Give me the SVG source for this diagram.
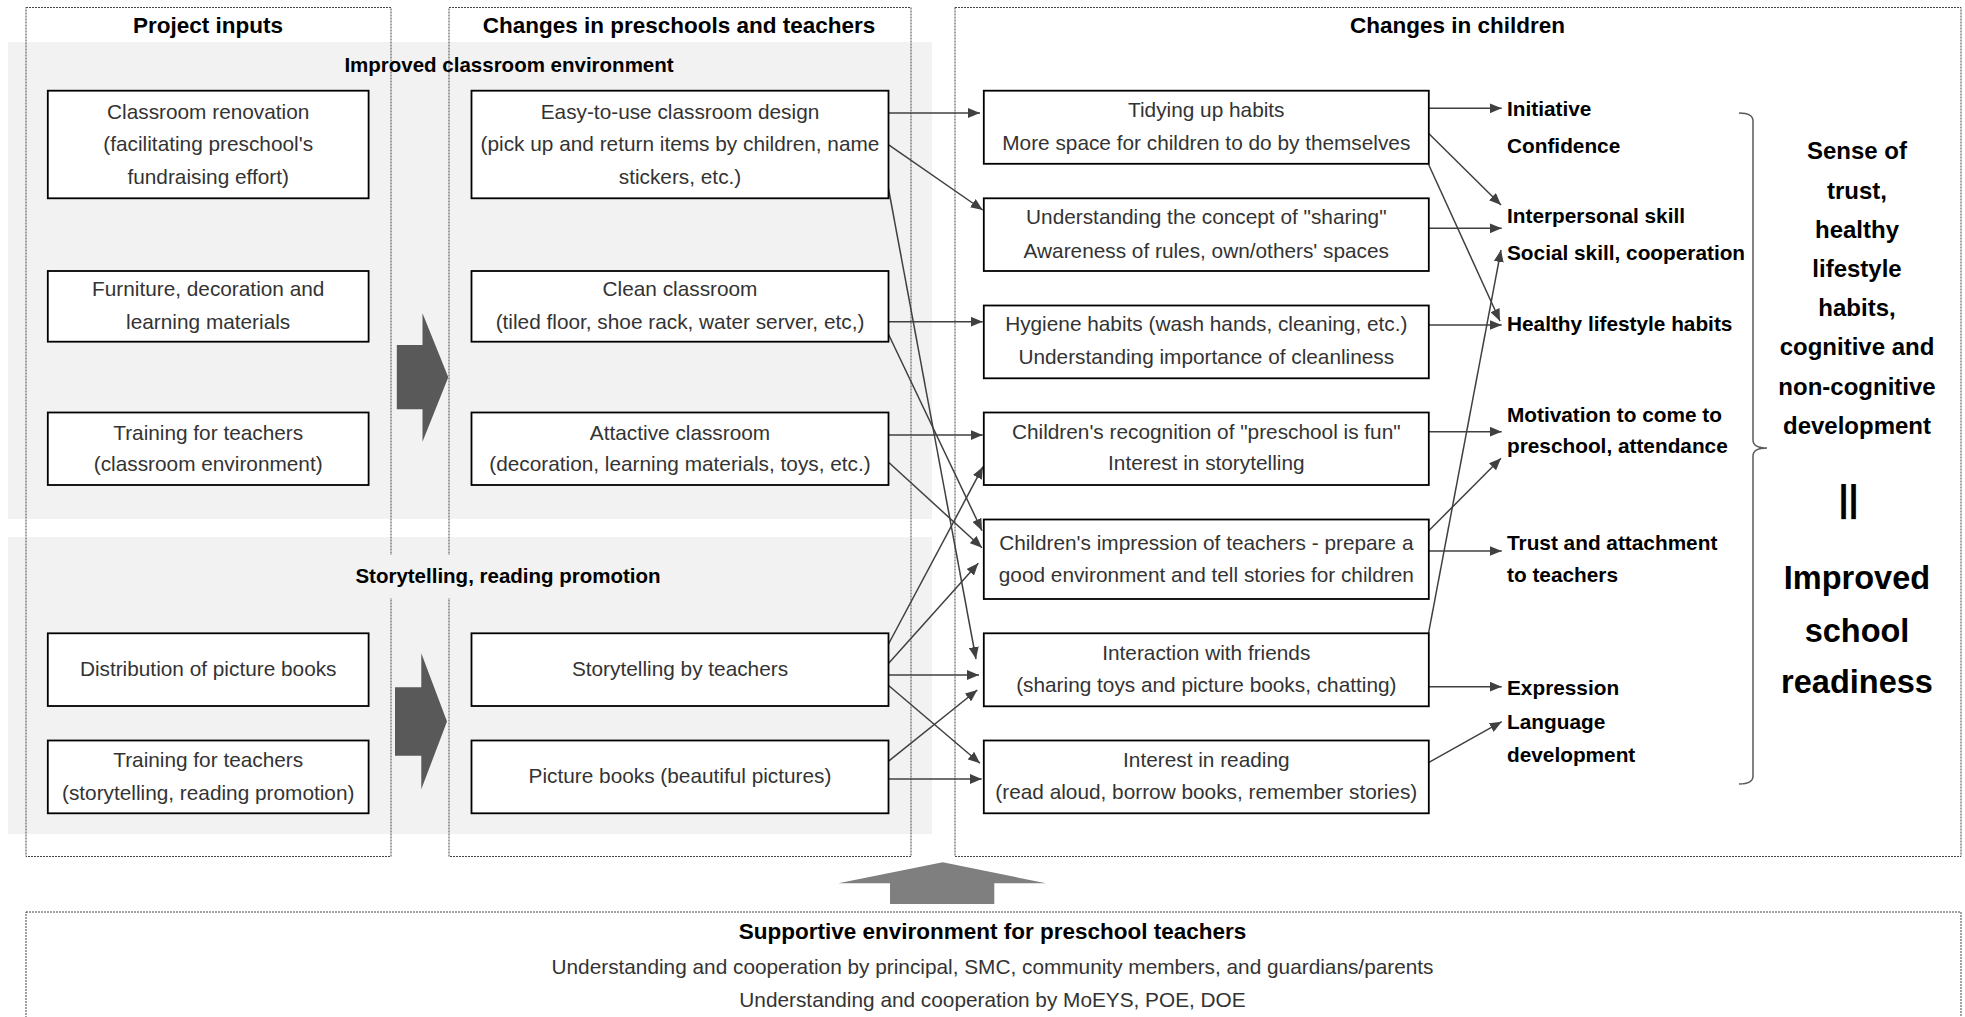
<svg xmlns="http://www.w3.org/2000/svg" width="1965" height="1017" viewBox="0 0 1965 1017">
<defs>
<style>
.band{fill:#f2f2f2}
.col{fill:none;stroke:#444;stroke-width:1;stroke-dasharray:2 1}
.box{fill:#fff;stroke:#000;stroke-width:1.8}
.t{font-family:"Liberation Sans",Arial,sans-serif;font-size:20.8px;fill:#333;text-anchor:middle}
.h{font-family:"Liberation Sans",Arial,sans-serif;font-size:22.5px;font-weight:bold;fill:#000;text-anchor:middle}
.s{font-family:"Liberation Sans",Arial,sans-serif;font-size:20.5px;font-weight:bold;fill:#000;text-anchor:middle}
.l{font-family:"Liberation Sans",Arial,sans-serif;font-size:20.8px;font-weight:bold;fill:#000}
.big{font-family:"Liberation Sans",Arial,sans-serif;font-size:24px;font-weight:bold;fill:#000;text-anchor:middle}
.huge{font-family:"Liberation Sans",Arial,sans-serif;font-size:32.5px;font-weight:bold;fill:#000;text-anchor:middle}
.c{fill:none;stroke:#404040;stroke-width:1.5;marker-end:url(#ah)}
</style>
<marker id="ah" markerWidth="12" markerHeight="10" refX="12" refY="5" orient="auto" markerUnits="userSpaceOnUse">
<path d="M0,0 L12,5 L0,10 z" fill="#404040"/>
</marker>
</defs>
<rect width="1965" height="1017" fill="#fff"/>
<g id="backgrounds">
<rect class="band" x="8" y="42" width="924" height="477"/>
<rect class="band" x="8" y="537" width="924" height="297"/>
</g>
<g id="columns">
<rect class="col" x="26" y="7.5" width="365" height="849"/>
<rect class="col" x="449" y="7.5" width="462" height="849"/>
<rect class="col" x="955" y="7.5" width="1006" height="849"/>
<rect class="col" x="26" y="912" width="1935" height="110"/>
<text class="h" x="208" y="32.5">Project inputs</text>
<text class="h" x="679" y="32.5">Changes in preschools and teachers</text>
<text class="h" x="1457.5" y="32.5">Changes in children</text>
</g>
<g id="section-labels">
<text class="s" x="509" y="71.7">Improved classroom environment</text>
<rect class="band" x="350" y="555" width="317" height="43"/>
<text class="s" x="508" y="583.3">Storytelling, reading promotion</text>
</g>
<g id="block-arrows">
<polygon points="396.8,345 422.5,345 422.5,313.3 448.3,377.3 422.5,441.7 422.5,409.3 396.8,409.3" fill="#595959"/>
<polygon points="395,687.3 421.3,687.3 421.3,653.3 447,721.5 421.3,789.3 421.3,755.7 395,755.7" fill="#595959"/>
<polygon points="838.3,883.3 942.7,862.3 1046,883.3 994.3,883.3 994.3,904 890,904 890,883.3" fill="#7f7f7f"/>
</g>
<g id="connectors">
<line class="c" x1="888" y1="113" x2="980" y2="113"/>
<line class="c" x1="888" y1="144.3" x2="982.7" y2="210"/>
<line class="c" x1="888" y1="186" x2="976" y2="659"/>
<line class="c" x1="888" y1="321.7" x2="982.7" y2="321.7"/>
<line class="c" x1="888" y1="333.3" x2="982" y2="530.7"/>
<line class="c" x1="888" y1="435" x2="982.7" y2="435"/>
<line class="c" x1="888" y1="461.7" x2="982" y2="547.7"/>
<line class="c" x1="888" y1="645" x2="983" y2="466.7"/>
<line class="c" x1="888" y1="664" x2="978.3" y2="563.3"/>
<line class="c" x1="888" y1="675" x2="979" y2="675"/>
<line class="c" x1="888" y1="685" x2="980" y2="763.3"/>
<line class="c" x1="888" y1="761.7" x2="977.3" y2="690"/>
<line class="c" x1="888" y1="779" x2="981.7" y2="779"/>
<line class="c" x1="1428.5" y1="108.3" x2="1501.7" y2="108.3"/>
<line class="c" x1="1428.5" y1="133.3" x2="1501" y2="205"/>
<line class="c" x1="1428.5" y1="164.3" x2="1500" y2="321"/>
<line class="c" x1="1428.5" y1="228.3" x2="1501.7" y2="228.3"/>
<line class="c" x1="1428.5" y1="325" x2="1501.7" y2="325"/>
<line class="c" x1="1428.5" y1="431.7" x2="1501.7" y2="431.7"/>
<line class="c" x1="1428.5" y1="531" x2="1501" y2="458.3"/>
<line class="c" x1="1428.5" y1="551" x2="1501.7" y2="551"/>
<line class="c" x1="1428.5" y1="633.3" x2="1501" y2="250"/>
<line class="c" x1="1428.5" y1="686.7" x2="1501.7" y2="686.7"/>
<line class="c" x1="1428.5" y1="762.7" x2="1501.7" y2="721.7"/>
</g>
<g id="A1"><rect class="box" x="47.8" y="90.7" width="320.8" height="107.6"/>
<text class="t" x="208.2" y="118.5">Classroom renovation</text>
<text class="t" x="208.2" y="151.1">(facilitating preschool's</text>
<text class="t" x="208.2" y="183.5">fundraising effort)</text></g>
<g id="A2"><rect class="box" x="47.8" y="271" width="320.8" height="70.7"/>
<text class="t" x="208.2" y="296.1">Furniture, decoration and</text>
<text class="t" x="208.2" y="329.1">learning materials</text></g>
<g id="A3"><rect class="box" x="47.8" y="412.5" width="320.8" height="72.5"/>
<text class="t" x="208.2" y="439.5">Training for teachers</text>
<text class="t" x="208.2" y="471.1">(classroom environment)</text></g>
<g id="A4"><rect class="box" x="47.8" y="633.3" width="320.8" height="72.7"/>
<text class="t" x="208.2" y="676.1">Distribution of picture books</text></g>
<g id="A5"><rect class="box" x="47.8" y="740.5" width="320.8" height="72.8"/>
<text class="t" x="208.2" y="766.8">Training for teachers</text>
<text class="t" x="208.2" y="799.5">(storytelling, reading promotion)</text></g>
<g id="B1"><rect class="box" x="471.5" y="90.7" width="417" height="107.6"/>
<text class="t" x="680" y="118.5">Easy-to-use classroom design</text>
<text class="t" x="680" y="151.1">(pick up and return items by children, name</text>
<text class="t" x="680" y="183.5">stickers, etc.)</text></g>
<g id="B2"><rect class="box" x="471.5" y="271" width="417" height="70.7"/>
<text class="t" x="680" y="296.1">Clean classroom</text>
<text class="t" x="680" y="329.1">(tiled floor, shoe rack, water server, etc,)</text></g>
<g id="B3"><rect class="box" x="471.5" y="412.5" width="417" height="72.5"/>
<text class="t" x="680" y="439.5">Attactive classroom</text>
<text class="t" x="680" y="471.1">(decoration, learning materials, toys, etc.)</text></g>
<g id="B4"><rect class="box" x="471.5" y="633.3" width="417" height="72.7"/>
<text class="t" x="680" y="676.1">Storytelling by teachers</text></g>
<g id="B5"><rect class="box" x="471.5" y="740.5" width="417" height="72.8"/>
<text class="t" x="680" y="782.8">Picture books (beautiful pictures)</text></g>
<g id="C1"><rect class="box" x="983.8" y="90.7" width="445" height="73.1"/>
<text class="t" x="1206.3" y="116.8">Tidying up habits</text>
<text class="t" x="1206.3" y="150.1">More space for children to do by themselves</text></g>
<g id="C2"><rect class="box" x="983.8" y="198.3" width="445" height="72.7"/>
<text class="t" x="1206.3" y="224.1">Understanding the concept of "sharing"</text>
<text class="t" x="1206.3" y="257.5">Awareness of rules, own/others' spaces</text></g>
<g id="C3"><rect class="box" x="983.8" y="305.5" width="445" height="72.8"/>
<text class="t" x="1206.3" y="330.8">Hygiene habits (wash hands, cleaning, etc.)</text>
<text class="t" x="1206.3" y="364.1">Understanding importance of cleanliness</text></g>
<g id="C4"><rect class="box" x="983.8" y="412.5" width="445" height="72.5"/>
<text class="t" x="1206.3" y="439.1">Children's recognition of "preschool is fun"</text>
<text class="t" x="1206.3" y="470.1">Interest in storytelling</text></g>
<g id="C5"><rect class="box" x="983.8" y="519.5" width="445" height="79.5"/>
<text class="t" x="1206.3" y="550.1">Children's impression of teachers - prepare a</text>
<text class="t" x="1206.3" y="581.8">good environment and tell stories for children</text></g>
<g id="C6"><rect class="box" x="983.8" y="633.3" width="445" height="73"/>
<text class="t" x="1206.3" y="660.1">Interaction with friends</text>
<text class="t" x="1206.3" y="691.8">(sharing toys and picture books, chatting)</text></g>
<g id="C7"><rect class="box" x="983.8" y="740.5" width="445" height="72.8"/>
<text class="t" x="1206.3" y="766.8">Interest in reading</text>
<text class="t" x="1206.3" y="799.1">(read aloud, borrow books, remember stories)</text></g>
<g id="outcomes">
<text class="l" x="1507" y="115.7">Initiative</text>
<text class="l" x="1507" y="152.7">Confidence</text>
<text class="l" x="1507" y="222.7">Interpersonal skill</text>
<text class="l" x="1507" y="260">Social skill, cooperation</text>
<text class="l" x="1507" y="330.7">Healthy lifestyle habits</text>
<text class="l" x="1507" y="421.7">Motivation to come to</text>
<text class="l" x="1507" y="453.4">preschool, attendance</text>
<text class="l" x="1507" y="550">Trust and attachment</text>
<text class="l" x="1507" y="581.7">to teachers</text>
<text class="l" x="1507" y="695">Expression</text>
<text class="l" x="1507" y="729.4">Language</text>
<text class="l" x="1507" y="762.4">development</text>
</g>
<g id="summary">
<path d="M1739,113 Q1753,113 1753,121 L1753,440 Q1753,448 1767,448 Q1753,448 1753,456 L1753,776 Q1753,784 1739,784" fill="none" stroke="#595959" stroke-width="1.5"/>
<text class="big" x="1857" y="159.3">Sense of</text>
<text class="big" x="1857" y="198.5">trust,</text>
<text class="big" x="1857" y="237.7">healthy</text>
<text class="big" x="1857" y="276.9">lifestyle</text>
<text class="big" x="1857" y="316.1">habits,</text>
<text class="big" x="1857" y="355.3">cognitive and</text>
<text class="big" x="1857" y="394.5">non-cognitive</text>
<text class="big" x="1857" y="433.7">development</text>
<text class="huge" x="1848.5" y="511" style="font-size:36px">||</text>
<text class="huge" x="1857" y="589.3">Improved</text>
<text class="huge" x="1857" y="641.7">school</text>
<text class="huge" x="1857" y="692.7">readiness</text>
</g>
<g id="support">
<text class="h" x="992.5" y="939.3">Supportive environment for preschool teachers</text>
<text class="t" x="992.5" y="973.5">Understanding and cooperation by principal, SMC, community members, and guardians/parents</text>
<text class="t" x="992.5" y="1006.5">Understanding and cooperation by MoEYS, POE, DOE</text>
</g>
</svg>
